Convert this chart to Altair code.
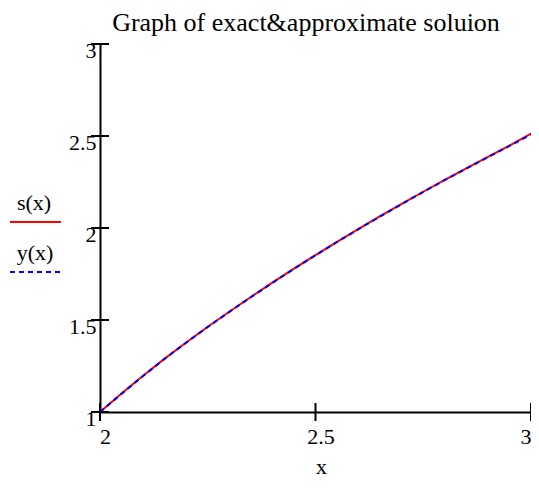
import altair as alt
import pandas as pd

# ---- data ----
x_vals = [2.00, 2.05, 2.10, 2.15, 2.20, 2.25, 2.30, 2.35, 2.40, 2.45, 2.50,
          2.55, 2.60, 2.65, 2.70, 2.75, 2.80, 2.85, 2.90, 2.95, 3.00]
s_vals = [1.000, 1.100, 1.197, 1.290, 1.378, 1.463, 1.545, 1.625, 1.703, 1.779, 1.853,
          1.925, 1.995, 2.064, 2.131, 2.197, 2.262, 2.324, 2.386, 2.448, 2.513]
y_vals = [1.000, 1.099, 1.196, 1.289, 1.377, 1.462, 1.544, 1.624, 1.702, 1.778, 1.852,
          1.924, 1.994, 2.063, 2.130, 2.196, 2.261, 2.323, 2.385, 2.446, 2.508]
x_ticks = [2, 2.5, 3]
y_ticks = [1, 1.5, 2, 2.5, 3]
legend_labels = ["s(x)", "y(x)"]
title_text = ["Graph of exact&approximate soluion"]

FONT = "Liberation Serif"

df = pd.DataFrame({"x": x_vals, "s": s_vals, "y": y_vals})
xt = pd.DataFrame({"v": x_ticks})
yt = pd.DataFrame({"v": y_ticks})
one = pd.DataFrame({"k": [0]})

xscale = alt.Scale(domain=[2, 3], nice=False, zero=False)
yscale = alt.Scale(domain=[1, 3], nice=False, zero=False)

xaxis = alt.Axis(values=x_ticks, format=".1~f", ticks=False, tickSize=0, grid=False,
                 domainColor="black", domainWidth=2, labelFont=FONT, labelFontSize=22,
                 labelColor="black", labelBaseline="alphabetic", labelPadding=31,
                 labelAlign={"condition": {"test": "datum.value >= 3", "value": "right"},
                             "value": "center"},
                 labelOffset={"condition": {"test": "datum.value >= 3", "value": 0},
                              "value": 5},
                 labelFlush=False, labelOverlap=False,
                 title="x", titleFont=FONT, titleFontSize=22, titleFontWeight="normal",
                 titleColor="black", titleBaseline="alphabetic", titleX=221, titleY=61,
                 titleAlign="center")
yaxis = alt.Axis(values=y_ticks, format=".1~f", ticks=False, tickSize=0, grid=False,
                 domainColor="black", domainWidth=2, labelFont=FONT, labelFontSize=22,
                 labelColor="black", labelBaseline="alphabetic", labelPadding=4,
                 labelOffset=13, labelFlush=False, labelOverlap=False, title=None)

s_line = alt.Chart(df).mark_line(color="#ff0000", strokeWidth=2).encode(
    x=alt.X("x:Q", scale=xscale, axis=xaxis),
    y=alt.Y("s:Q", scale=yscale, axis=yaxis),
)
y_line = alt.Chart(df).mark_line(color="#0000ff", strokeWidth=2, strokeDash=[5, 4]).encode(
    x=alt.X("x:Q", scale=xscale),
    y=alt.Y("y:Q", scale=yscale),
)

y_tickmarks = alt.Chart(yt).mark_tick(orient="horizontal", size=18, thickness=2,
                                      color="black", opacity=1).encode(
    x=alt.datum(2, scale=xscale),
    y=alt.Y("v:Q", scale=yscale),
)
x_tickmarks = alt.Chart(xt).mark_tick(orient="vertical", size=18, thickness=2,
                                      color="black", opacity=1).encode(
    x=alt.X("v:Q", scale=xscale),
    y=alt.datum(1, scale=yscale),
)

title_mark = alt.Chart(pd.DataFrame({"t": title_text})).mark_text(
    font=FONT, fontSize=26, color="black", align="center", baseline="alphabetic"
).encode(text="t:N", x=alt.value(206), y=alt.value(-13))

leg_s_text = alt.Chart(pd.DataFrame({"t": [legend_labels[0]]})).mark_text(
    font=FONT, fontSize=22, color="black", align="center", baseline="alphabetic"
).encode(text="t:N", x=alt.value(-66), y=alt.value(166))
leg_s_line = alt.Chart(one).mark_rule(color="#ff0000", strokeWidth=2).encode(
    x=alt.value(-90), x2=alt.value(-39), y=alt.value(178))
leg_y_text = alt.Chart(pd.DataFrame({"t": [legend_labels[1]]})).mark_text(
    font=FONT, fontSize=22, color="black", align="center", baseline="alphabetic"
).encode(text="t:N", x=alt.value(-65), y=alt.value(216))
leg_y_line = alt.Chart(one).mark_rule(color="#0000ff", strokeWidth=2, strokeDash=[5, 4]).encode(
    x=alt.value(-90), x2=alt.value(-39), y=alt.value(228))

chart = alt.layer(
    s_line, y_line, y_tickmarks, x_tickmarks, title_mark,
    leg_s_text, leg_s_line, leg_y_text, leg_y_line,
).properties(
    width=431, height=368,
    autosize=alt.AutoSizeParams(type="none"),
    padding={"left": 92, "top": 36, "right": 0, "bottom": 66},
).configure_view(stroke=None)

chart.save("out.html", embed_options={"renderer": "svg", "actions": False})
